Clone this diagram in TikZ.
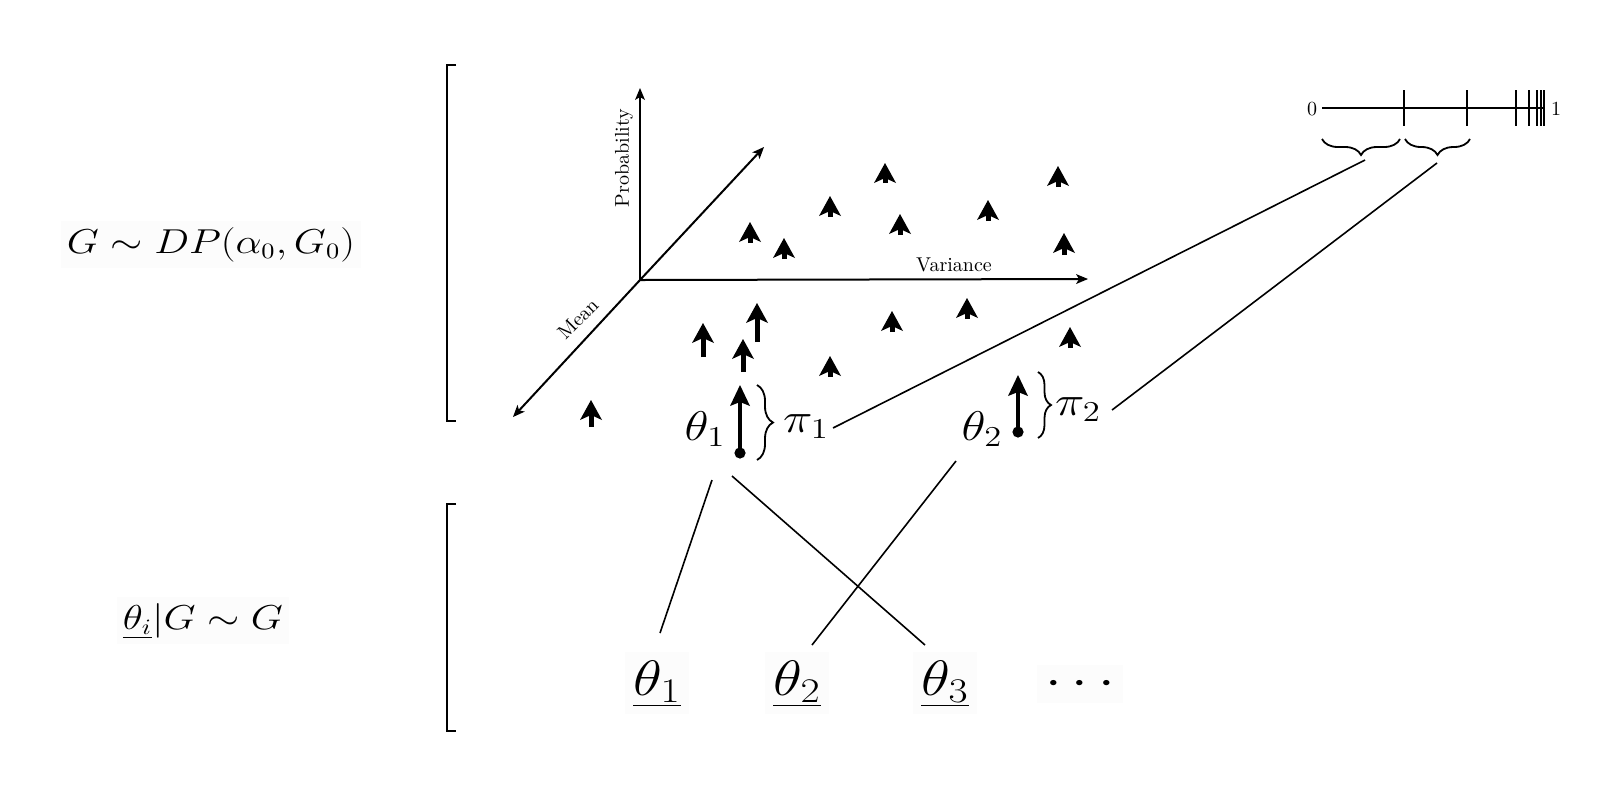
\documentclass[tikz,border=0pt]{standalone}
\usepackage{graphicx}
\usetikzlibrary{arrows.meta,decorations.pathreplacing}
\newcommand{\hs}[1]{\scalebox{1.2}[1]{#1}}
\begin{document}
\begin{tikzpicture}[x=0.5pt,y=-0.5pt,
  sarr/.style={line width=2.5pt,-{Stealth[length=10pt,width=11pt,inset=2.5pt,line width=0pt]}},
  bigarr/.style={line width=2.2pt,-{Stealth[length=10.5pt,width=10pt,inset=2pt,line width=0pt]}},
  axisarr/.style={line width=1pt,-{Stealth[length=6pt,width=5pt,inset=1.5pt,line width=0pt]}},
  conn/.style={line width=0.8pt},
  brk/.style={line width=1.3pt},
  brc/.style={decorate,line width=0.9pt},
  small/.style={font=\fontsize{10}{12}\selectfont, inner sep=1pt},
  formula/.style={anchor=base, fill=black!1, inner sep=3pt, font=\fontsize{16}{20}\selectfont},
  bottheta/.style={anchor=base, fill=black!1, inner sep=4pt, font=\fontsize{23.4}{28}\selectfont},
  toplbl/.style={anchor=base, inner sep=1pt, font=\fontsize{21.5}{25}\selectfont},
  pilbl/.style={anchor=base, inner sep=1pt, font=\fontsize{20}{24}\selectfont}
]
\useasboundingbox (0,0) rectangle (1600,800);

% left formulas and brackets
\node[formula] (gdp) at (211,253) {\hs{$G\sim DP(\alpha_0,G_0)$}};
\node[formula] (thetai) at (203,629) {\hs{$\underline{\theta_i}|G\sim G$}};
\draw[brk] (456,65) -- (447,65) -- (447,421) -- (456,421);
\draw[brk] (456,504) -- (447,504) -- (447,731) -- (456,731);

% axes
\coordinate (o) at (640,280);
\coordinate (pend) at (640,88);
\coordinate (dend) at (764,147);
\coordinate (vend) at (1088,279);
\coordinate (mend) at (513,417);
\draw[axisarr] (o) -- (pend);
\draw[axisarr] (o) -- (dend);
\draw[axisarr] (o) -- (vend);
\draw[axisarr] (o) -- (mend);
\node[small, rotate=90] (lprob) at (624,158) {Probability};
\node[small, anchor=base] (lvar) at (954,271.7) {Variance};
\node[small, rotate=45] (lmean) at (578,319) {Mean};

% small atoms
\foreach \x/\t/\b in {1058/166/187, 830/196/217, 900/214/235, 988/200/221,
  750/222/243, 784/238/259, 1064/233/255, 885/163/183,
  703/323/357, 757/303/342, 743/339/372, 830/356/377, 892/311/332,
  967/298/319, 1070/327/348, 591/400/427}
  \draw[sarr] (\x,\b) -- (\x,\t);

% big atoms
\coordinate (a1b) at (740,453);
\coordinate (a1t) at (740,385);
\coordinate (a2b) at (1018,432);
\coordinate (a2t) at (1018,375);
\draw[bigarr] (a1b) -- (a1t);
\fill (a1b) circle (2.8pt);
\draw[bigarr] (a2b) -- (a2t);
\fill (a2b) circle (2.8pt);
\draw[brc, decoration={brace,amplitude=8pt}] (757,385) -- (757,460);
\draw[brc, decoration={brace,amplitude=6.5pt}] (1038,372) -- (1038,438);
\node[toplbl] (t1) at (705,440) {\hs{$\theta_1$}};
\node[toplbl] (t2) at (982,440) {\hs{$\theta_2$}};
\node[pilbl] (p1) at (806,432) {\hs{$\pi_1$}};
\node[pilbl] (p2) at (1078,415) {\hs{$\pi_2$}};

% stick-breaking bar
\coordinate (bar0) at (1322,108);
\coordinate (bar1) at (1545,108);
\draw[line width=1pt] (bar0) -- (bar1);
\foreach \x in {1404,1467,1516,1529,1537,1541,1544}
  \draw[line width=1.1pt] (\x,90) -- (\x,126);
\node[small] (z0) at (1312,109) {0};
\node[small] (z1) at (1556,109) {1};
\draw[brc, decoration={brace,mirror,amplitude=8pt}] (1322,139) -- (1400,139);
\draw[brc, decoration={brace,mirror,amplitude=8pt}] (1405,139) -- (1470,139);
\coordinate (br1) at (1365,160);
\coordinate (br2) at (1437,163);
\coordinate (p1r) at (833,428);
\coordinate (p2r) at (1112,410);
\draw[conn] (p1r) -- (br1);
\draw[conn] (p2r) -- (br2);

% draws
\node[bottheta] (b1) at (657,695) {\hs{$\underline{\theta_1}$}};
\node[bottheta] (b2) at (797,695) {\hs{$\underline{\theta_2}$}};
\node[bottheta] (b3) at (945,695) {\hs{$\underline{\theta_3}$}};
\node[bottheta] (bd) at (1080,695) {\hs{$\cdots$}};
\coordinate (l1s) at (712,480);
\coordinate (l1e) at (660,633);
\coordinate (l2s) at (732,476);
\coordinate (l2e) at (925,645);
\coordinate (l3s) at (956,461);
\coordinate (l3e) at (812,645);
\draw[conn] (l1s) -- (l1e);
\draw[conn] (l2s) -- (l2e);
\draw[conn] (l3s) -- (l3e);
\end{tikzpicture}
\end{document}
